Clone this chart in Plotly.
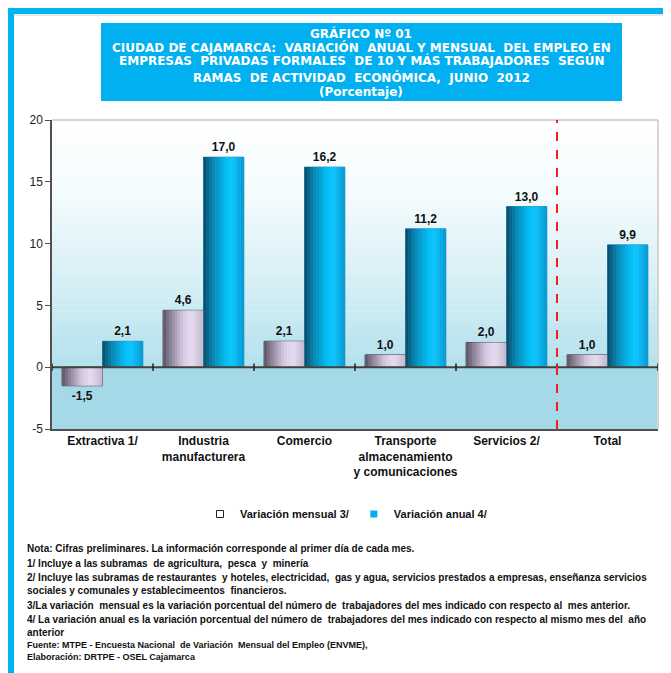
import plotly.graph_objects as go

# ---------------- data ----------------
categories = ["Extractiva 1/", "Industria<br>manufacturera", "Comercio",
              "Transporte<br>almacenamiento<br>y comunicaciones", "Servicios 2/", "Total"]
mensual = [-1.5, 4.6, 2.1, 1.0, 2.0, 1.0]
anual = [2.1, 17.0, 16.2, 11.2, 13.0, 9.9]
series_names = ["Variación mensual 3/", "Variación anual 4/"]
y_ticks = [-5, 0, 5, 10, 15, 20]

NB = "\u00a0"
title_lines = [
    "GRÁFICO Nº 01",
    "CIUDAD DE CAJAMARCA:" + NB + " VARIACIÓN" + NB + " ANUAL Y MENSUAL" + NB + " DEL EMPLEO EN",
    "EMPRESAS" + NB + " PRIVADAS FORMALES" + NB + " DE 10 Y MÁS TRABAJADORES" + NB + " SEGÚN",
    "RAMAS" + NB + " DE ACTIVIDAD" + NB + " ECONÓMICA," + NB + " JUNIO" + NB + " 2012",
    "(Porcentaje)",
]
note_lines = [
    "Nota: Cifras preliminares. La información corresponde al primer día de cada mes.",
    "1/ Incluye a las subramas  de agricultura,  pesca  y  minería",
    "2/ Incluye las subramas de restaurantes  y hoteles, electricidad,  gas y agua, servicios prestados a empresas, enseñanza servicios",
    "sociales y comunales y establecimeentos  financieros.",
    "3/La variación  mensual es la variación porcentual del número de  trabajadores del mes indicado con respecto al  mes anterior.",
    "4/ La variación anual es la variación porcentual del número de  trabajadores del mes indicado con respecto al mismo mes del  año",
    "anterior",
]
source_lines = [
    "Fuente: MTPE - Encuesta Nacional  de Variación  Mensual del Empleo (ENVME),",
    "Elaboración: DRTPE - OSEL Cajamarca",
]

# ---------------- geometry helpers (page pixels) ----------------
PAGE_W, PAGE_H = 671, 673
OFF = 8                      # default body margin of the html page
W, H = PAGE_W - OFF, PAGE_H - OFF
L, R, T, B = 52, 658, 120, 429


def px(x):
    return (x - L) / (R - L)


def py(y):
    return (B - y) / (B - T)


def hex2rgb(h):
    h = h.lstrip("#")
    return tuple(int(h[i:i + 2], 16) for i in (0, 2, 4))


def interp(stops, t):
    for (p0, c0), (p1, c1) in zip(stops[:-1], stops[1:]):
        if p0 <= t <= p1:
            f = 0 if p1 == p0 else (t - p0) / (p1 - p0)
            a, b = hex2rgb(c0), hex2rgb(c1)
            return "rgb(%d,%d,%d)" % tuple(round(a[i] + (b[i] - a[i]) * f) for i in range(3))
    return stops[-1][1]


mens_stops = [(0, "#5c5266"), (0.18, "#8c8296"), (0.5, "#d6cae4"), (0.72, "#e6dcf2"), (1, "#c2b8ce")]
anu_stops = [(0, "#0b4a66"), (0.22, "#0a84b0"), (0.55, "#04bdf4"), (0.72, "#12c6ff"), (1, "#0898d0")]

BAR_W = 0.4
K = 14
font_b = "Liberation Sans, Arial, sans-serif"
font_t = "DejaVu Sans, Liberation Sans, Arial, sans-serif"

fig = go.Figure()

# base bars carrying the value labels
fig.add_trace(go.Bar(
    x=categories, y=mensual, name=series_names[0], offset=-BAR_W, width=BAR_W,
    marker=dict(color="#f2ecf8", line=dict(color="#404040", width=1)),
    texttemplate="%{y:.1f}", textposition="outside", cliponaxis=False,
    textfont=dict(family=font_b, size=12, color="#111111", weight="bold"),
    showlegend=False, hoverinfo="skip",
))
fig.add_trace(go.Bar(
    x=categories, y=anual, name=series_names[1], offset=0, width=BAR_W,
    marker=dict(color="#00b0f0", line=dict(color="#0a6a90", width=0.6)),
    texttemplate="%{y:.1f}", textposition="outside", cliponaxis=False,
    textfont=dict(family=font_b, size=12, color="#111111", weight="bold"),
    showlegend=False, hoverinfo="skip",
))

# gradient slices (cylinder-like shading)
sw = BAR_W / K
for vals, base, stops in ((mensual, -BAR_W, mens_stops), (anual, 0.0, anu_stops)):
    for i in range(K):
        t = (i + 0.5) / K
        fig.add_trace(go.Bar(
            x=categories, y=vals, offset=base + i * sw,
            width=sw + (0.004 if i < K - 1 else 0),
            marker=dict(color=interp(stops, t), line=dict(width=0)),
            showlegend=False, hoverinfo="skip",
        ))

# legend entries (small squares like the original)
fig.add_trace(go.Scatter(x=[None], y=[None], mode="markers", name=series_names[0],
                         marker=dict(symbol="square", size=7, color="white",
                                     line=dict(color="#222222", width=1))))
fig.add_trace(go.Scatter(x=[None], y=[None], mode="markers", name=series_names[1],
                         marker=dict(symbol="square", size=7, color="#00b0f0",
                                     line=dict(width=0))))

shapes = []
# background gradient
bg_stops = [(0, "#ffffff"), (0.3, "#f4fbfd"), (0.7, "#d2eef5"), (1, "#b2e0ec")]
N = 40
top, zero = y_ticks[-1], 0
for i in range(N):
    y0 = top - (top - zero) * i / N
    y1 = top - (top - zero) * (i + 1) / N
    shapes.append(dict(type="rect", xref="x domain", yref="y", x0=0, x1=1, y0=y1, y1=y0 + 0.02,
                       fillcolor=interp(bg_stops, (i + 0.5) / N), line=dict(width=0), layer="below"))
shapes.append(dict(type="rect", xref="x domain", yref="y", x0=0, x1=1, y0=y_ticks[0], y1=0,
                   fillcolor="#a6d9e7", line=dict(width=0), layer="below"))
# plot border (top/right light grey)
shapes.append(dict(type="line", xref="x domain", yref="y domain", x0=0, x1=1, y0=1, y1=1,
                   line=dict(color="#d4d4d4", width=2)))
shapes.append(dict(type="line", xref="x domain", yref="y domain", x0=1, x1=1, y0=0, y1=1,
                   line=dict(color="#d4d4d4", width=2)))
# zero line
shapes.append(dict(type="line", xref="x domain", yref="y", x0=0, x1=1, y0=0, y1=0,
                   line=dict(color="#404040", width=2)))
# category boundary ticks on the zero line
for k in range(len(categories) + 1):
    shapes.append(dict(type="line", xref="x", yref="y", x0=k - 0.5, x1=k - 0.5, y0=-0.3, y1=0.3,
                       line=dict(color="#202020", width=1.5)))
# red dashed separator before Total
shapes.append(dict(type="line", xref="x", yref="y domain", x0=len(categories) - 1.5,
                   x1=len(categories) - 1.5, y0=0, y1=1,
                   line=dict(color="#ff1a1a", width=2, dash="dash")))
# outer blue frame
shapes.append(dict(type="rect", xref="paper", yref="paper", x0=px(8), x1=px(PAGE_W + 5), y0=py(14), y1=py(8),
                   fillcolor="#00b4f0", line=dict(width=0), layer="above"))
shapes.append(dict(type="line", xref="paper", yref="paper", x0=px(14), x1=px(PAGE_W + 5), y0=py(15), y1=py(15),
                   line=dict(color="#d0d0d0", width=1)))
shapes.append(dict(type="rect", xref="paper", yref="paper", x0=px(8), x1=px(14), y0=py(PAGE_H + 5), y1=py(8),
                   fillcolor="#00b4f0", line=dict(width=0), layer="above"))
# title box
shapes.append(dict(type="rect", xref="paper", yref="paper", x0=px(101), x1=px(622), y0=py(101), y1=py(23),
                   fillcolor="#00b0f0", line=dict(width=0)))

annotations = []
title_y = [34, 47, 61, 77, 92]
for txt, yy in zip(title_lines, title_y):
    annotations.append(dict(text=txt, xref="paper", yref="paper", x=px(361), y=py(yy),
                            xanchor="center", yanchor="middle", showarrow=False,
                            font=dict(family=font_t, size=12, color="white", weight="bold")))
note_y = [548, 563, 577, 590, 605, 619, 632]
for txt, yy in zip(note_lines, note_y):
    annotations.append(dict(text=txt, xref="paper", yref="paper", x=px(25), y=py(yy),
                            xanchor="left", yanchor="middle", showarrow=False,
                            font=dict(family=font_b, size=10, color="#111111", weight="bold")))
for txt, yy in zip(source_lines, [645, 657]):
    annotations.append(dict(text=txt, xref="paper", yref="paper", x=px(25), y=py(yy),
                            xanchor="left", yanchor="middle", showarrow=False,
                            font=dict(family=font_b, size=9, color="#111111", weight="bold")))

fig.update_layout(
    width=W, height=H,
    margin=dict(l=L - OFF, r=PAGE_W - R, t=T - OFF, b=PAGE_H - B, pad=0),
    paper_bgcolor="white", plot_bgcolor="white",
    barmode="overlay", separators=", ",
    showlegend=True,
    legend=dict(orientation="h", x=px(346), y=py(514), xanchor="center", yanchor="middle",
                font=dict(family=font_b, size=11, color="#111111", weight="bold"),
                itemwidth=30, bgcolor="rgba(0,0,0,0)"),
    xaxis=dict(type="category", showgrid=False, showline=True, linecolor="#505050", linewidth=1.5,
               ticks="", tickfont=dict(family=font_b, size=12, color="#111111", weight="bold"),
               range=[-0.5, len(categories) - 0.5]),
    yaxis=dict(range=[y_ticks[0], y_ticks[-1]], tickvals=y_ticks, ticktext=[str(v) for v in y_ticks],
               showgrid=False, zeroline=False,
               showline=True, linecolor="#505050", linewidth=1.5, ticks="outside", ticklen=5,
               tickcolor="#505050", tickfont=dict(family=font_b, size=12, color="#222222")),
    shapes=shapes, annotations=annotations,
    font=dict(family=font_b),
)

fig.write_html("out.html")
